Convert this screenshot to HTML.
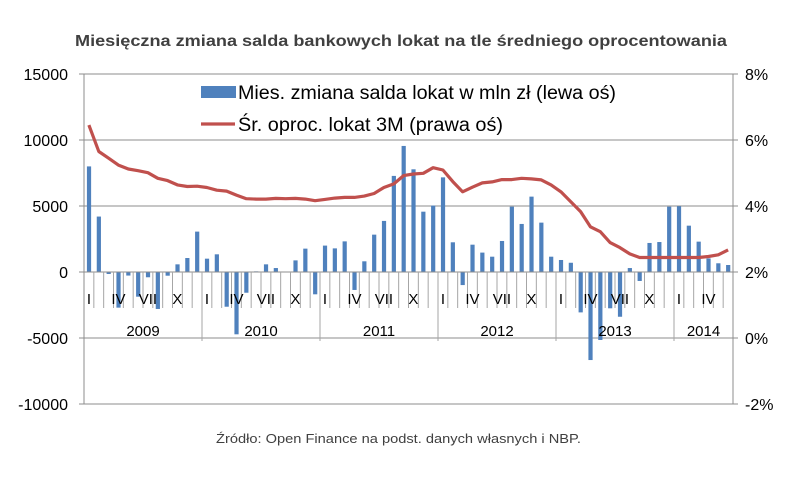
<!DOCTYPE html>
<html><head><meta charset="utf-8"><style>
html,body{margin:0;padding:0;background:#fff;}
svg{display:block;font-family:"Liberation Sans",sans-serif;}
</style></head><body>
<svg id="chart" width="805" height="479" viewBox="0 0 805 479">
<text x="401" y="46" text-anchor="middle" font-size="16" font-weight="bold" fill="#404040" textLength="652" lengthAdjust="spacingAndGlyphs">Miesięczna zmiana salda bankowych lokat na tle średniego oprocentowania</text>
<g id="grid"></g>
<g id="bars"></g>
<g id="xaxis"></g>
<g id="yaxes"></g>
<path id="line" fill="none" stroke="#c0504d" stroke-width="3.2" stroke-linejoin="round"/>
<g>
<rect x="201" y="86" width="35" height="12" fill="#4f81bd"/>
<text x="238" y="99" font-size="19" fill="#000" textLength="378" lengthAdjust="spacingAndGlyphs">Mies. zmiana salda lokat w mln zł (lewa oś)</text>
<line x1="201" y1="124" x2="235" y2="124" stroke="#c0504d" stroke-width="3.2"/>
<text x="238" y="131" font-size="19" fill="#000" textLength="265" lengthAdjust="spacingAndGlyphs">Śr. oproc. lokat 3M (prawa oś)</text>
</g>
<text x="216" y="443" font-size="13" fill="#404040" textLength="365" lengthAdjust="spacingAndGlyphs">Źródło: Open Finance na podst. danych własnych i NBP.</text>
</svg>
<script>
const years = ["2009","2010","2011","2012","2013","2014"];
const monthLabels = ["I","","","IV","","","VII","","","X","",""];
const depositChange = [8000,4200,-150,-2700,-270,-1870,-400,-2800,-280,580,1060,3060,
 1010,1340,-2630,-4720,-1570,50,580,300,0,880,1770,-1690,
 2000,1790,2320,-1360,810,2830,3870,7280,9550,7780,4570,5030,
 7170,2250,-990,2070,1470,1160,2350,4950,3640,5710,3740,1160,
 910,700,-3060,-6670,-5150,-2750,-3390,300,-680,2200,2270,4950,
 4980,3510,2300,1030,660,530];
const rate3M = [6.45,5.65,5.45,5.24,5.12,5.07,5.01,4.84,4.77,4.64,4.59,4.60,
 4.56,4.48,4.45,4.33,4.22,4.21,4.21,4.23,4.22,4.23,4.21,4.16,
 4.20,4.24,4.26,4.26,4.30,4.38,4.56,4.67,4.92,4.97,4.99,5.16,
 5.09,4.74,4.43,4.57,4.70,4.73,4.80,4.80,4.84,4.82,4.79,4.64,
 4.43,4.13,3.83,3.37,3.22,2.89,2.74,2.55,2.44,2.44,2.44,2.44,
 2.44,2.44,2.44,2.47,2.52,2.67];
const leftTicks = [15000,10000,5000,0,-5000,-10000];
const rightTicks = ["8%","6%","4%","2%","0%","-2%"];
const rightVals = [8,6,4,2,0,-2];

const NS="http://www.w3.org/2000/svg";
const X0=84,X1=733,YT=74,YB=404;
const n=depositChange.length, bw=(X1-X0)/n;
const yL=v=>YT+(15000-v)/25000*(YB-YT);
const yR=v=>YT+(8-v)/10*(YB-YT);
const xC=i=>X0+bw*(i+0.5);
function mk(tag,attrs,parent){const e=document.createElementNS(NS,tag);for(const k in attrs)e.setAttribute(k,attrs[k]);parent.appendChild(e);return e;}
const grid=document.getElementById('grid'),bars=document.getElementById('bars'),xa=document.getElementById('xaxis'),ya=document.getElementById('yaxes');
leftTicks.forEach((t,i)=>{
 const y=yL(t);
 if(t!==0){const g=mk('line',{x1:X0,x2:X1,y1:y,y2:y,stroke:'#8c8c8c','stroke-width':1},grid);
 
 }
 const tl=mk('text',{x:68,y:y+6,'text-anchor':'end','font-size':16,fill:'#000'},ya);tl.textContent=t;
 
 
 mk('line',{x1:X0-5,x2:X0,y1:y,y2:y,stroke:'#8c8c8c'},ya);
 const yr=yR(rightVals[i]);
 mk('line',{x1:X1,x2:X1+5,y1:yr,y2:yr,stroke:'#8c8c8c'},ya);
 const tr=mk('text',{x:745,y:yr+6,'font-size':16,fill:'#000'},ya);tr.textContent=rightTicks[i];
 
 
});
mk('line',{x1:X0,x2:X0,y1:YT,y2:YB,stroke:'#8c8c8c'},ya);
mk('line',{x1:X1,x2:X1,y1:YT,y2:YB,stroke:'#8c8c8c'},ya);
const y0=yL(0);
depositChange.forEach((v,i)=>{
 const y=yL(v);
 const r=mk('rect',{x:xC(i)-2,y:Math.min(y,y0),width:4.2,height:Math.max(Math.abs(y-y0),0.5),fill:'#4f81bd'},bars);
 
 
});
mk('line',{x1:X0,x2:X1,y1:y0,y2:y0,stroke:'#8c8c8c'},xa);
for(let i=0;i<=n;i++){
 const x=X0+bw*i, yearB=(i%12===0);
 mk('line',{x1:x,x2:x,y1:y0,y2:yearB?341:308,stroke:'#a6a6a6'},xa);
}
depositChange.forEach((v,i)=>{
 const lab=monthLabels[i%12];
 if(lab){const t=mk('text',{x:xC(i),y:304,'text-anchor':'middle','font-size':15,fill:'#000'},xa);t.textContent=lab;
 
 }
});
years.forEach((yv,j)=>{
 const s=j*12,e=Math.min(n,s+12);
 const t=mk('text',{x:X0+bw*(s+e)/2,y:336,'text-anchor':'middle','font-size':15,fill:'#000'},xa);t.textContent=yv;
 
 
});
document.getElementById('line').setAttribute('d',rate3M.map((v,i)=>(i?'L':'M')+xC(i).toFixed(1)+','+yR(v).toFixed(1)).join(' '));
</script>
</body></html>
